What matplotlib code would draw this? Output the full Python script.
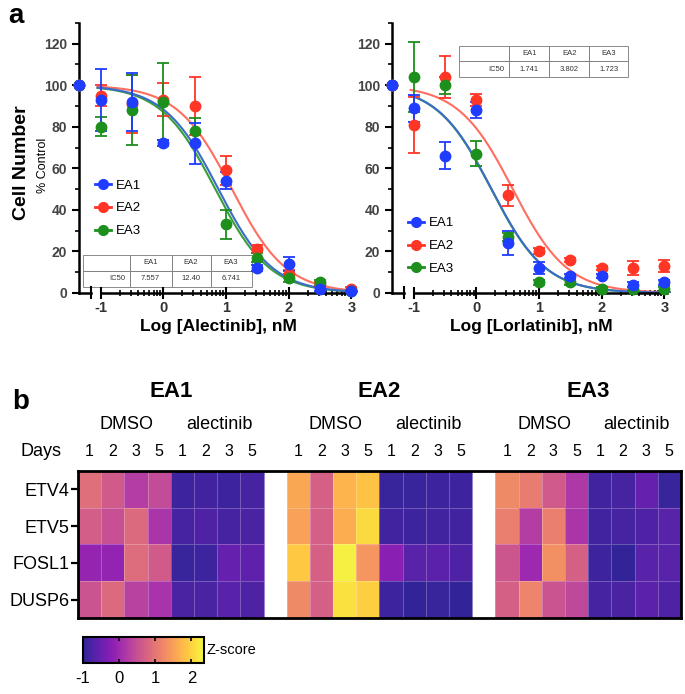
import numpy as np
import matplotlib
matplotlib.use('Agg')
import matplotlib.pyplot as plt
from matplotlib.lines import Line2D
from matplotlib.colors import ListedColormap
import matplotlib.transforms as mtransforms

plt.rcParams['font.family'] = ['Liberation Sans', 'DejaVu Sans']
plt.rcParams['axes.unicode_minus'] = False

# ---- panel a: dose response ----
lines = ['EA1', 'EA2', 'EA3']
dot_colors = ['#1f3cff', '#ff3526', '#1c8f1c']
fit_colors = ['#3a6cc8', '#ff6e60', '#3a9e3a']
log_dose = [-1, -0.5, 0, 0.5, 1, 1.5, 2, 2.5, 3]
ctrl_x = -1.35

alec_mean = [[93, 92, 72, 72, 54, 12, 14, 2, 1],
             [95, 91, 93, 90, 59, 21, 9, 4, 2],
             [80, 88, 92, 78, 33, 17, 7, 5, 1]]
alec_err = [[15, 14, 1.5, 10, 4, 1.5, 3.5, 1, 0.5],
            [5, 14, 8, 14, 7, 2, 2, 1, 1],
            [4.5, 17, 18.5, 6, 7, 2, 2, 1, 0.5]]
alec_ic50_txt = ['7.557', '12.40', '6.741']

lorl_mean = [[89, 66, 88, 24, 12, 8, 8, 4, 5],
             [81, 104, 93, 47, 20, 16, 12, 12, 13],
             [104, 100, 67, 27, 5, 5, 2, 2, 2]]
lorl_err = [[6.5, 6.5, 4, 6, 3, 1, 1, 1, 1],
            [13.5, 10, 3, 5, 1.5, 1, 1, 3.5, 3],
            [17, 4, 6, 2, 1, 1, 1, 1, 1]]
lorl_ic50_txt = ['1.741', '3.802', '1.723']

# ---- panel b: heatmap ----
genes = ['ETV4', 'ETV5', 'FOSL1', 'DUSP6']
days = ['1', '2', '3', '5']
treatments = ['DMSO', 'alectinib']
heat_ea1 = [[0.90, 0.65, 0.25, 0.45, -0.88, -0.85, -0.88, -0.82],
            [0.70, 0.50, 0.85, 0.15, -0.82, -0.75, -0.82, -0.78],
            [-0.08, -0.10, 0.88, 0.65, -0.91, -0.88, -0.55, -0.60],
            [0.55, 0.85, 0.32, 0.12, -0.78, -0.78, -0.66, -0.74]]
heat_ea2 = [[1.57, 0.72, 1.70, 1.84, -0.91, -0.91, -0.88, -0.88],
            [1.50, 0.72, 1.64, 2.07, -0.85, -0.88, -0.85, -0.85],
            [1.90, 0.72, 2.27, 1.38, -0.20, -0.66, -0.63, -0.74],
            [1.24, 0.72, 2.13, 1.97, -0.88, -0.96, -0.91, -0.96]]
heat_ea3 = [[1.24, 1.08, 0.65, 0.19, -0.85, -0.82, -0.55, -0.91],
            [1.11, 0.25, 1.11, 0.15, -0.85, -0.82, -0.74, -0.66],
            [0.58, -0.01, 1.31, 0.72, -0.88, -0.96, -0.66, -0.66],
            [0.72, 1.18, 0.55, 0.39, -0.82, -0.78, -0.63, -0.74]]
vmin, vmax = -1, 2.35

# plasma, washed a little towards white like the figure
_pl = plt.get_cmap('plasma')(np.linspace(0, 1, 256))
_pl[:, :3] = _pl[:, :3] * 0.88 + 0.12
heat_cmap = ListedColormap(_pl)


def hill(x, ic50):
    # 4PL fit with top=100, bottom=0, slope=1 (from the IC50 table)
    return 100 / (1 + 10 ** (x - np.log10(ic50)))


def dose_panel(ax, means, errs, ic50_txt, xlabel, leg_anchor, tab_bbox, tab_cols):
    xfit = np.linspace(-1.05, 3.1, 200)
    for i in [2, 1, 0]:
        ax.plot(xfit, hill(xfit, float(ic50_txt[i])), color=fit_colors[i], lw=1.5, zorder=2)
    for i in [1, 2, 0]:
        ax.errorbar(log_dose, means[i], yerr=errs[i], fmt='o', color=dot_colors[i],
                    ms=7.5, capsize=4, elinewidth=1.3, capthick=1.3, zorder=3, clip_on=False)
        ax.plot([ctrl_x], [100], 'o', color=dot_colors[i], ms=7.5, zorder=3, clip_on=False)
    ax.set_xlim(-1.35, 3.1)
    ax.set_ylim(0, 130)
    ax.spines['top'].set_visible(False)
    ax.spines['right'].set_visible(False)
    ax.spines['bottom'].set_visible(False)
    ax.spines['left'].set_linewidth(1.8)
    ax.set_yticks(range(0, 121, 20))
    ax.set_yticks(range(10, 131, 20), minor=True)
    ax.tick_params(axis='y', which='major', length=5, width=1.5, labelsize=10, labelcolor='#444')
    ax.tick_params(axis='y', which='minor', length=3, width=1.2)
    ax.set_xticks([-1, 0, 1, 2, 3])
    minor = [d + np.log10(k) for d in range(-1, 3) for k in range(2, 10)]
    ax.set_xticks(minor, minor=True)
    ax.tick_params(axis='x', which='major', direction='inout', length=8, width=1.5,
                   labelsize=10.5, labelcolor='#333', pad=2)
    ax.tick_params(axis='x', which='minor', direction='inout', length=4, width=1.2)
    for lab in ax.get_xticklabels() + ax.get_yticklabels():
        lab.set_fontweight('bold')
    # broken x axis
    tr = mtransforms.blended_transform_factory(ax.transData, ax.transAxes)
    ax.plot([-1.35, -1.16], [0, 0], color='k', lw=1.8, transform=tr, clip_on=False)
    ax.plot([-1.0, 3.05], [0, 0], color='k', lw=1.8, transform=tr, clip_on=False)
    ax.plot([-1.16, -1.16], [-0.02, 0.02], color='k', lw=1.5, transform=tr, clip_on=False)
    ax.set_xlabel(xlabel, fontsize=12.5, fontweight='bold', labelpad=3)
    handles = [Line2D([0], [0], color=dot_colors[i], marker='o', ms=7, lw=2) for i in range(3)]
    ax.legend(handles, lines, loc='upper left', bbox_to_anchor=leg_anchor, frameon=False,
              fontsize=9.5, handlelength=1.2, handletextpad=0.4, labelspacing=0.8,
              borderaxespad=0)
    tab = ax.table(cellText=[[''] + lines, ['IC50'] + ic50_txt], bbox=tab_bbox,
                   colWidths=tab_cols, cellLoc='center')
    tab.auto_set_font_size(False)
    for (r, c), cell in tab.get_celld().items():
        cell.set_edgecolor('#777')
        cell.set_linewidth(0.6)
        cell.get_text().set_fontsize(5.5)
        cell.get_text().set_color('#333')
        if c == 0:
            cell.get_text().set_ha('right')
            cell._loc = 'right'


fig = plt.figure(figsize=(6.85, 6.94), dpi=100)

ax1 = fig.add_axes([0.115, 0.578, 0.407, 0.389])
dose_panel(ax1, alec_mean, alec_err, alec_ic50_txt, 'Log [Alectinib], nM',
           (0.04, 0.44), [0.014, 0.022, 0.606, 0.119], [0.278, 0.249, 0.231, 0.243])
ax2 = fig.add_axes([0.572, 0.578, 0.407, 0.389])
dose_panel(ax2, lorl_mean, lorl_err, lorl_ic50_txt, 'Log [Lorlatinib], nM',
           (0.04, 0.30), [0.240, 0.80, 0.606, 0.115], [0.30, 0.237, 0.237, 0.226])

fig.text(0.031, 0.765, 'Cell Number', rotation=90, fontsize=14, fontweight='bold',
         ha='center', va='center')
fig.text(0.063, 0.762, '% Control', rotation=90, fontsize=9, ha='center', va='center')
fig.text(0.012, 0.995, 'a', fontsize=20, fontweight='bold', va='top')
fig.text(0.018, 0.44, 'b', fontsize=20, fontweight='bold', va='top')

# heatmap
gap = np.full((4, 1), np.nan)
heat = np.hstack([np.array(heat_ea1), gap, np.array(heat_ea2), gap, np.array(heat_ea3)])
axh = fig.add_axes([0.114, 0.1095, 0.880, 0.212])
mesh = axh.pcolormesh(np.ma.masked_invalid(heat), cmap=heat_cmap, vmin=vmin, vmax=vmax,
                      edgecolors=(1, 1, 1, 0.25), linewidth=0.6)
axh.set_xlim(0, heat.shape[1])
axh.set_ylim(4, 0)
for s in axh.spines.values():
    s.set_linewidth(2)
axh.set_xticks([])
axh.set_yticks(np.arange(4) + 0.5)
axh.set_yticklabels(genes, fontsize=13)
axh.tick_params(axis='y', length=5, width=1.6, pad=1)

for g, name in enumerate(lines):
    x0 = g * 9
    axh.text(x0 + 4, -2.15, name, ha='center', va='center', fontsize=16, fontweight='bold')
    for t, trt in enumerate(treatments):
        axh.text(x0 + 4 * t + 2.1, -1.25, trt, ha='center', va='center', fontsize=13)
        for d, day in enumerate(days):
            axh.text(x0 + 4 * t + d + 0.5, -0.52, day, ha='center', va='center', fontsize=11.5)
axh.text(-0.7, -0.52, 'Days', ha='right', va='center', fontsize=13)

cax = fig.add_axes([0.121, 0.0447, 0.177, 0.0375])
cb = fig.colorbar(mesh, cax=cax, orientation='horizontal', ticks=[-1, 0, 1, 2])
cb.outline.set_linewidth(1.5)
cax.tick_params(direction='in', length=3, width=1.2, top=True, labelsize=12, pad=6)
fig.text(0.302, 1 - 650 / 694, 'Z-score', va='center', fontsize=10.5)

fig.savefig('out.png', dpi=100)
